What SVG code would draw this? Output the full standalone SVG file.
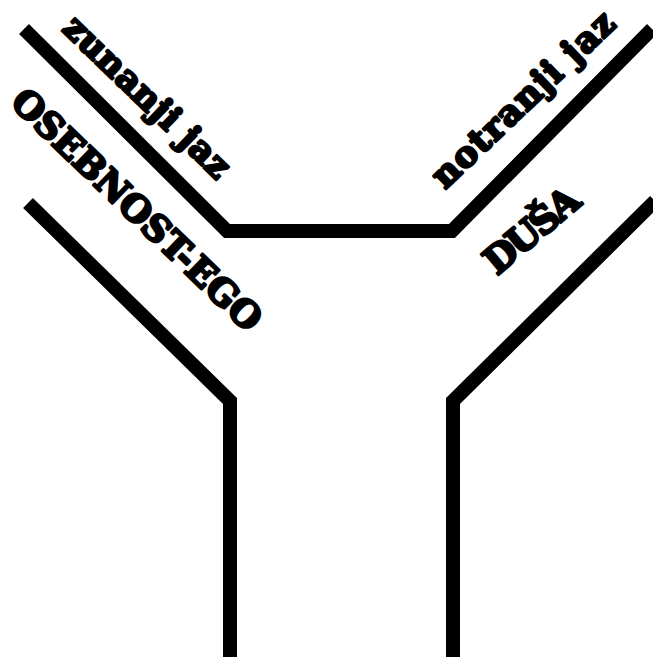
<svg xmlns="http://www.w3.org/2000/svg" width="653" height="658" viewBox="0 0 653 658">
<style>
.ln{fill:none;stroke:#000;stroke-width:14;stroke-linejoin:miter;stroke-linecap:butt}
.t{font-family:"DejaVu Serif","Liberation Serif",serif;font-weight:bold;fill:#000;stroke:#000;stroke-width:2.6;stroke-linejoin:round}
</style>
<rect width="653" height="658" fill="#fff"/>
<g id="connectors">
<path class="ln" d="M24,29 L227,231 L452,231 L652,29"/>
<path class="ln" d="M28,203 L230,401 L230,657"/>
<path class="ln" d="M655,201 L453,401 L453,657"/>
</g>
<g id="zunanji">
<text class="t" font-size="35" x="61" y="30" transform="rotate(44 61 30)" textLength="217" lengthAdjust="spacing">zunanji jaz</text>
</g>
<g id="notranji">
<text class="t" font-size="35" x="445" y="190" transform="rotate(-43.6 445 190)" textLength="238" lengthAdjust="spacing">notranji jaz</text>
</g>
<g id="osebnost">
<text class="t" font-size="36" x="9" y="104" transform="rotate(43.9 9 104)" textLength="331" lengthAdjust="spacing">OSEBNOST-EGO</text>
</g>
<g id="dusa">
<text class="t" font-size="37" x="497" y="276" transform="rotate(-40 497 276)" textLength="112" lengthAdjust="spacing">DUŠA</text>
</g>
</svg>
